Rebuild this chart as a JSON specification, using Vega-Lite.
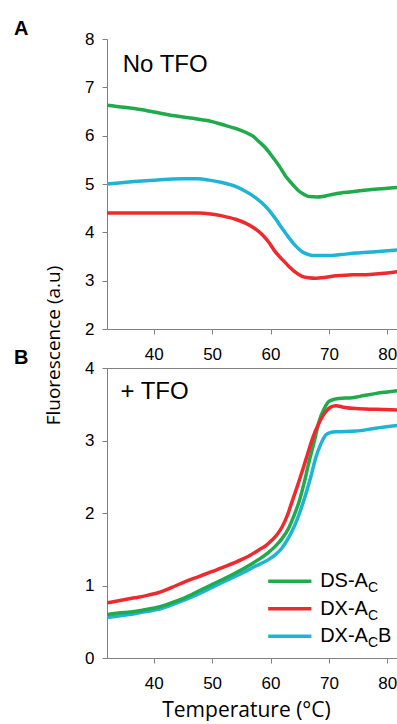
{
  "$schema": "https://vega.github.io/schema/vega-lite/v6.json",
  "autosize": {"type": "pad"},
  "padding": {"left": 13, "top": 19, "right": 0, "bottom": 0},
  "background": "white",
  "bounds": "flush",
  "spacing": 39,
  "config": {
    "view": {"stroke": null},
    "font": "Liberation Sans",
    "axis": {
      "grid": false,
      "domainColor": "#808080",
      "tickColor": "#808080",
      "tickSize": 5,
      "labelFont": "Liberation Sans",
      "labelFontSize": 17,
      "labelColor": "#000000",
      "titleFont": "Open Sans",
      "titleFontWeight": "normal",
      "titleFontSize": 21,
      "titleColor": "#000000"
    },
    "axisY": {"labelPadding": 8},
    "axisX": {"labelPadding": 12}
  },
  "datasets": {
    "curves": [
      {"panel": "A", "series": "DS-AC", "temp": 32, "fluor": 6.63},
      {"panel": "A", "series": "DS-AC", "temp": 34, "fluor": 6.6},
      {"panel": "A", "series": "DS-AC", "temp": 36.7, "fluor": 6.56},
      {"panel": "A", "series": "DS-AC", "temp": 40, "fluor": 6.49},
      {"panel": "A", "series": "DS-AC", "temp": 43.6, "fluor": 6.41},
      {"panel": "A", "series": "DS-AC", "temp": 46, "fluor": 6.37},
      {"panel": "A", "series": "DS-AC", "temp": 48.2, "fluor": 6.33},
      {"panel": "A", "series": "DS-AC", "temp": 50, "fluor": 6.29},
      {"panel": "A", "series": "DS-AC", "temp": 51.7, "fluor": 6.23},
      {"panel": "A", "series": "DS-AC", "temp": 54, "fluor": 6.15},
      {"panel": "A", "series": "DS-AC", "temp": 55.7, "fluor": 6.07},
      {"panel": "A", "series": "DS-AC", "temp": 57, "fluor": 5.99},
      {"panel": "A", "series": "DS-AC", "temp": 58, "fluor": 5.88},
      {"panel": "A", "series": "DS-AC", "temp": 59.2, "fluor": 5.74},
      {"panel": "A", "series": "DS-AC", "temp": 60.3, "fluor": 5.57},
      {"panel": "A", "series": "DS-AC", "temp": 61.5, "fluor": 5.37},
      {"panel": "A", "series": "DS-AC", "temp": 62.6, "fluor": 5.16},
      {"panel": "A", "series": "DS-AC", "temp": 63.8, "fluor": 4.99},
      {"panel": "A", "series": "DS-AC", "temp": 64.9, "fluor": 4.85},
      {"panel": "A", "series": "DS-AC", "temp": 65.8, "fluor": 4.78},
      {"panel": "A", "series": "DS-AC", "temp": 66.6, "fluor": 4.74},
      {"panel": "A", "series": "DS-AC", "temp": 68, "fluor": 4.73},
      {"panel": "A", "series": "DS-AC", "temp": 68.9, "fluor": 4.74},
      {"panel": "A", "series": "DS-AC", "temp": 70, "fluor": 4.77},
      {"panel": "A", "series": "DS-AC", "temp": 71.2, "fluor": 4.8},
      {"panel": "A", "series": "DS-AC", "temp": 74, "fluor": 4.84},
      {"panel": "A", "series": "DS-AC", "temp": 77, "fluor": 4.88},
      {"panel": "A", "series": "DS-AC", "temp": 80, "fluor": 4.91},
      {"panel": "A", "series": "DS-AC", "temp": 82, "fluor": 4.93},

      {"panel": "A", "series": "DX-ACB", "temp": 32, "fluor": 5.0},
      {"panel": "A", "series": "DX-ACB", "temp": 34, "fluor": 5.02},
      {"panel": "A", "series": "DX-ACB", "temp": 36.7, "fluor": 5.05},
      {"panel": "A", "series": "DX-ACB", "temp": 40, "fluor": 5.08},
      {"panel": "A", "series": "DX-ACB", "temp": 42.5, "fluor": 5.1},
      {"panel": "A", "series": "DX-ACB", "temp": 45, "fluor": 5.11},
      {"panel": "A", "series": "DX-ACB", "temp": 47.6, "fluor": 5.11},
      {"panel": "A", "series": "DX-ACB", "temp": 49.5, "fluor": 5.08},
      {"panel": "A", "series": "DX-ACB", "temp": 51.7, "fluor": 5.03},
      {"panel": "A", "series": "DX-ACB", "temp": 54, "fluor": 4.95},
      {"panel": "A", "series": "DX-ACB", "temp": 55.7, "fluor": 4.85},
      {"panel": "A", "series": "DX-ACB", "temp": 57.3, "fluor": 4.73},
      {"panel": "A", "series": "DX-ACB", "temp": 58.6, "fluor": 4.6},
      {"panel": "A", "series": "DX-ACB", "temp": 59.8, "fluor": 4.45},
      {"panel": "A", "series": "DX-ACB", "temp": 60.8, "fluor": 4.29},
      {"panel": "A", "series": "DX-ACB", "temp": 62, "fluor": 4.08},
      {"panel": "A", "series": "DX-ACB", "temp": 63.2, "fluor": 3.88},
      {"panel": "A", "series": "DX-ACB", "temp": 64.3, "fluor": 3.72},
      {"panel": "A", "series": "DX-ACB", "temp": 65.4, "fluor": 3.6},
      {"panel": "A", "series": "DX-ACB", "temp": 66.3, "fluor": 3.55},
      {"panel": "A", "series": "DX-ACB", "temp": 67.2, "fluor": 3.52},
      {"panel": "A", "series": "DX-ACB", "temp": 70, "fluor": 3.52},
      {"panel": "A", "series": "DX-ACB", "temp": 72, "fluor": 3.54},
      {"panel": "A", "series": "DX-ACB", "temp": 74.6, "fluor": 3.57},
      {"panel": "A", "series": "DX-ACB", "temp": 78, "fluor": 3.6},
      {"panel": "A", "series": "DX-ACB", "temp": 82, "fluor": 3.64},

      {"panel": "A", "series": "DX-AC", "temp": 32, "fluor": 4.4},
      {"panel": "A", "series": "DX-AC", "temp": 36, "fluor": 4.4},
      {"panel": "A", "series": "DX-AC", "temp": 40, "fluor": 4.4},
      {"panel": "A", "series": "DX-AC", "temp": 44, "fluor": 4.4},
      {"panel": "A", "series": "DX-AC", "temp": 47.6, "fluor": 4.4},
      {"panel": "A", "series": "DX-AC", "temp": 49.8, "fluor": 4.38},
      {"panel": "A", "series": "DX-AC", "temp": 51.7, "fluor": 4.34},
      {"panel": "A", "series": "DX-AC", "temp": 54, "fluor": 4.27},
      {"panel": "A", "series": "DX-AC", "temp": 55.7, "fluor": 4.19},
      {"panel": "A", "series": "DX-AC", "temp": 57.3, "fluor": 4.08},
      {"panel": "A", "series": "DX-AC", "temp": 58.6, "fluor": 3.95},
      {"panel": "A", "series": "DX-AC", "temp": 59.8, "fluor": 3.78},
      {"panel": "A", "series": "DX-AC", "temp": 60.8, "fluor": 3.6},
      {"panel": "A", "series": "DX-AC", "temp": 62, "fluor": 3.44},
      {"panel": "A", "series": "DX-AC", "temp": 63.2, "fluor": 3.29},
      {"panel": "A", "series": "DX-AC", "temp": 64.3, "fluor": 3.17},
      {"panel": "A", "series": "DX-AC", "temp": 65.4, "fluor": 3.09},
      {"panel": "A", "series": "DX-AC", "temp": 66.5, "fluor": 3.06},
      {"panel": "A", "series": "DX-AC", "temp": 67.7, "fluor": 3.05},
      {"panel": "A", "series": "DX-AC", "temp": 69.5, "fluor": 3.07},
      {"panel": "A", "series": "DX-AC", "temp": 71.2, "fluor": 3.1},
      {"panel": "A", "series": "DX-AC", "temp": 74, "fluor": 3.12},
      {"panel": "A", "series": "DX-AC", "temp": 77, "fluor": 3.13},
      {"panel": "A", "series": "DX-AC", "temp": 80, "fluor": 3.16},
      {"panel": "A", "series": "DX-AC", "temp": 82, "fluor": 3.19},

      {"panel": "B", "series": "DX-ACB", "temp": 32, "fluor": 0.56},
      {"panel": "B", "series": "DX-ACB", "temp": 34, "fluor": 0.58},
      {"panel": "B", "series": "DX-ACB", "temp": 36.7, "fluor": 0.61},
      {"panel": "B", "series": "DX-ACB", "temp": 38.7, "fluor": 0.64},
      {"panel": "B", "series": "DX-ACB", "temp": 40.7, "fluor": 0.67},
      {"panel": "B", "series": "DX-ACB", "temp": 43, "fluor": 0.73},
      {"panel": "B", "series": "DX-ACB", "temp": 45.3, "fluor": 0.8},
      {"panel": "B", "series": "DX-ACB", "temp": 47.6, "fluor": 0.88},
      {"panel": "B", "series": "DX-ACB", "temp": 49.9, "fluor": 0.97},
      {"panel": "B", "series": "DX-ACB", "temp": 52.5, "fluor": 1.07},
      {"panel": "B", "series": "DX-ACB", "temp": 55.1, "fluor": 1.17},
      {"panel": "B", "series": "DX-ACB", "temp": 57.5, "fluor": 1.27},
      {"panel": "B", "series": "DX-ACB", "temp": 59.7, "fluor": 1.36},
      {"panel": "B", "series": "DX-ACB", "temp": 60.9, "fluor": 1.43},
      {"panel": "B", "series": "DX-ACB", "temp": 62, "fluor": 1.52},
      {"panel": "B", "series": "DX-ACB", "temp": 63.1, "fluor": 1.66},
      {"panel": "B", "series": "DX-ACB", "temp": 64.2, "fluor": 1.84},
      {"panel": "B", "series": "DX-ACB", "temp": 65.1, "fluor": 2.03},
      {"panel": "B", "series": "DX-ACB", "temp": 66, "fluor": 2.25},
      {"panel": "B", "series": "DX-ACB", "temp": 66.9, "fluor": 2.5},
      {"panel": "B", "series": "DX-ACB", "temp": 67.7, "fluor": 2.75},
      {"panel": "B", "series": "DX-ACB", "temp": 68.6, "fluor": 2.95},
      {"panel": "B", "series": "DX-ACB", "temp": 69.5, "fluor": 3.08},
      {"panel": "B", "series": "DX-ACB", "temp": 70.3, "fluor": 3.11},
      {"panel": "B", "series": "DX-ACB", "temp": 71.2, "fluor": 3.12},
      {"panel": "B", "series": "DX-ACB", "temp": 74.6, "fluor": 3.13},
      {"panel": "B", "series": "DX-ACB", "temp": 78, "fluor": 3.17},
      {"panel": "B", "series": "DX-ACB", "temp": 82, "fluor": 3.21},

      {"panel": "B", "series": "DS-AC", "temp": 32, "fluor": 0.6},
      {"panel": "B", "series": "DS-AC", "temp": 34, "fluor": 0.62},
      {"panel": "B", "series": "DS-AC", "temp": 36.7, "fluor": 0.64},
      {"panel": "B", "series": "DS-AC", "temp": 38.7, "fluor": 0.67},
      {"panel": "B", "series": "DS-AC", "temp": 40.7, "fluor": 0.7},
      {"panel": "B", "series": "DS-AC", "temp": 43, "fluor": 0.76},
      {"panel": "B", "series": "DS-AC", "temp": 45.3, "fluor": 0.83},
      {"panel": "B", "series": "DS-AC", "temp": 47.6, "fluor": 0.92},
      {"panel": "B", "series": "DS-AC", "temp": 49.9, "fluor": 1.01},
      {"panel": "B", "series": "DS-AC", "temp": 52.5, "fluor": 1.11},
      {"panel": "B", "series": "DS-AC", "temp": 55.1, "fluor": 1.22},
      {"panel": "B", "series": "DS-AC", "temp": 56.6, "fluor": 1.29},
      {"panel": "B", "series": "DS-AC", "temp": 58, "fluor": 1.36},
      {"panel": "B", "series": "DS-AC", "temp": 59.4, "fluor": 1.44},
      {"panel": "B", "series": "DS-AC", "temp": 60.8, "fluor": 1.54},
      {"panel": "B", "series": "DS-AC", "temp": 62, "fluor": 1.65},
      {"panel": "B", "series": "DS-AC", "temp": 63.1, "fluor": 1.79},
      {"panel": "B", "series": "DS-AC", "temp": 64, "fluor": 1.96},
      {"panel": "B", "series": "DS-AC", "temp": 64.9, "fluor": 2.16},
      {"panel": "B", "series": "DS-AC", "temp": 65.8, "fluor": 2.43},
      {"panel": "B", "series": "DS-AC", "temp": 66.6, "fluor": 2.71},
      {"panel": "B", "series": "DS-AC", "temp": 67.5, "fluor": 2.99},
      {"panel": "B", "series": "DS-AC", "temp": 68.3, "fluor": 3.26},
      {"panel": "B", "series": "DS-AC", "temp": 69.2, "fluor": 3.44},
      {"panel": "B", "series": "DS-AC", "temp": 70, "fluor": 3.54},
      {"panel": "B", "series": "DS-AC", "temp": 71, "fluor": 3.57},
      {"panel": "B", "series": "DS-AC", "temp": 71.7, "fluor": 3.58},
      {"panel": "B", "series": "DS-AC", "temp": 74, "fluor": 3.59},
      {"panel": "B", "series": "DS-AC", "temp": 76, "fluor": 3.62},
      {"panel": "B", "series": "DS-AC", "temp": 78.1, "fluor": 3.65},
      {"panel": "B", "series": "DS-AC", "temp": 80, "fluor": 3.67},
      {"panel": "B", "series": "DS-AC", "temp": 82, "fluor": 3.69},

      {"panel": "B", "series": "DX-AC", "temp": 32, "fluor": 0.76},
      {"panel": "B", "series": "DX-AC", "temp": 34, "fluor": 0.79},
      {"panel": "B", "series": "DX-AC", "temp": 36.7, "fluor": 0.83},
      {"panel": "B", "series": "DX-AC", "temp": 38.7, "fluor": 0.86},
      {"panel": "B", "series": "DX-AC", "temp": 40.7, "fluor": 0.9},
      {"panel": "B", "series": "DX-AC", "temp": 43, "fluor": 0.97},
      {"panel": "B", "series": "DX-AC", "temp": 45.3, "fluor": 1.05},
      {"panel": "B", "series": "DX-AC", "temp": 47.6, "fluor": 1.12},
      {"panel": "B", "series": "DX-AC", "temp": 49.9, "fluor": 1.19},
      {"panel": "B", "series": "DX-AC", "temp": 52.5, "fluor": 1.27},
      {"panel": "B", "series": "DX-AC", "temp": 55.1, "fluor": 1.36},
      {"panel": "B", "series": "DX-AC", "temp": 56.6, "fluor": 1.42},
      {"panel": "B", "series": "DX-AC", "temp": 58, "fluor": 1.49},
      {"panel": "B", "series": "DX-AC", "temp": 59.2, "fluor": 1.55},
      {"panel": "B", "series": "DX-AC", "temp": 60.3, "fluor": 1.63},
      {"panel": "B", "series": "DX-AC", "temp": 61.2, "fluor": 1.71},
      {"panel": "B", "series": "DX-AC", "temp": 62, "fluor": 1.81},
      {"panel": "B", "series": "DX-AC", "temp": 62.9, "fluor": 1.97},
      {"panel": "B", "series": "DX-AC", "temp": 63.7, "fluor": 2.16},
      {"panel": "B", "series": "DX-AC", "temp": 64.6, "fluor": 2.37},
      {"panel": "B", "series": "DX-AC", "temp": 65.4, "fluor": 2.57},
      {"panel": "B", "series": "DX-AC", "temp": 66.3, "fluor": 2.8},
      {"panel": "B", "series": "DX-AC", "temp": 67.2, "fluor": 3.03},
      {"panel": "B", "series": "DX-AC", "temp": 68.3, "fluor": 3.24},
      {"panel": "B", "series": "DX-AC", "temp": 69.5, "fluor": 3.4},
      {"panel": "B", "series": "DX-AC", "temp": 70.3, "fluor": 3.46},
      {"panel": "B", "series": "DX-AC", "temp": 71.2, "fluor": 3.48},
      {"panel": "B", "series": "DX-AC", "temp": 72.5, "fluor": 3.46},
      {"panel": "B", "series": "DX-AC", "temp": 74.6, "fluor": 3.44},
      {"panel": "B", "series": "DX-AC", "temp": 78, "fluor": 3.43},
      {"panel": "B", "series": "DX-AC", "temp": 82, "fluor": 3.42}
    ],
    "notes": [
      {"panel": "A", "label": "No TFO", "temp": 34.7, "fluor": 7.32},
      {"panel": "B", "label": "+ TFO", "temp": 34.3, "fluor": 3.57}
    ],
    "legend": [
      {"series": "DS-AC", "t1": 59.6, "t2": 67.0, "tl": 68.5, "fluor": 1.06, "main": "DS-A", "sub": "C", "tail": ""},
      {"series": "DX-AC", "t1": 59.6, "t2": 67.0, "tl": 68.5, "fluor": 0.68, "main": "DX-A", "sub": "C", "tail": ""},
      {"series": "DX-ACB", "t1": 59.6, "t2": 67.0, "tl": 68.5, "fluor": 0.3, "main": "DX-A", "sub": "C", "tail": "B"}
    ]
  },
  "vconcat": [
    {
      "width": 292,
      "height": 290,
      "title": {"text": "A", "anchor": "start", "frame": "group", "dx": -93, "dy": 12, "offset": 3, "fontSize": 20, "fontWeight": "bold", "font": "Liberation Sans", "color": "#000000"},
      "layer": [
        {
          "data": {"name": "curves"},
          "transform": [{"filter": "datum.panel === 'A'"}],
          "mark": {"type": "line", "strokeWidth": 3.5, "interpolate": "monotone", "clip": true},
          "encoding": {
            "x": {"field": "temp", "type": "quantitative", "scale": {"domain": [32, 82], "nice": false}, "axis": {"values": [40, 50, 60, 70, 80], "title": null}},
            "y": {"field": "fluor", "type": "quantitative", "scale": {"domain": [2, 8], "nice": false}, "axis": {"values": [2, 3, 4, 5, 6, 7, 8], "format": "d", "title": "Fluorescence (a.u)", "titleX": -44, "titleY": 306, "titleFontSize": 19}},
            "color": {"field": "series", "type": "nominal", "scale": {"domain": ["DS-AC", "DX-AC", "DX-ACB"], "range": ["#1faa4b", "#ee2a2e", "#1fb4d6"]}, "legend": null}
          }
        },
        {
          "data": {"name": "notes"},
          "transform": [{"filter": "datum.panel === 'A'"}],
          "mark": {"type": "text", "align": "left", "baseline": "alphabetic", "fontSize": 24, "font": "Liberation Sans", "color": "#000000"},
          "encoding": {
            "x": {"field": "temp", "type": "quantitative"},
            "y": {"field": "fluor", "type": "quantitative"},
            "text": {"field": "label"}
          }
        }
      ]
    },
    {
      "width": 292,
      "height": 290,
      "view": {"stroke": "#808080", "strokeWidth": 1},
      "title": {"text": "B", "anchor": "start", "frame": "group", "dx": -93, "dy": 13, "offset": 4, "fontSize": 20, "fontWeight": "bold", "font": "Liberation Sans", "color": "#000000"},
      "layer": [
        {
          "data": {"name": "curves"},
          "transform": [{"filter": "datum.panel === 'B'"}],
          "mark": {"type": "line", "strokeWidth": 3.5, "interpolate": "monotone", "clip": true},
          "encoding": {
            "x": {"field": "temp", "type": "quantitative", "scale": {"domain": [32, 82], "nice": false}, "axis": {"values": [40, 50, 60, 70, 80], "title": "Temperature (°C)", "titlePadding": 8, "titleX": 139}},
            "y": {"field": "fluor", "type": "quantitative", "scale": {"domain": [0, 4], "nice": false}, "axis": {"values": [0, 1, 2, 3, 4], "format": "d", "title": null}},
            "color": {"field": "series", "type": "nominal", "scale": {"domain": ["DS-AC", "DX-AC", "DX-ACB"], "range": ["#1faa4b", "#ee2a2e", "#1fb4d6"]}, "legend": null}
          }
        },
        {
          "data": {"name": "notes"},
          "transform": [{"filter": "datum.panel === 'B'"}],
          "mark": {"type": "text", "align": "left", "baseline": "alphabetic", "fontSize": 24, "font": "Liberation Sans", "color": "#000000"},
          "encoding": {
            "x": {"field": "temp", "type": "quantitative"},
            "y": {"field": "fluor", "type": "quantitative"},
            "text": {"field": "label"}
          }
        },
        {
          "data": {"name": "legend"},
          "mark": {"type": "rule", "strokeWidth": 3.5},
          "encoding": {
            "x": {"field": "t1", "type": "quantitative"},
            "x2": {"field": "t2"},
            "y": {"field": "fluor", "type": "quantitative"},
            "color": {"field": "series", "type": "nominal", "legend": null}
          }
        },
        {
          "data": {"name": "legend"},
          "mark": {"type": "text", "align": "left", "baseline": "middle", "fontSize": 20, "font": "Liberation Sans", "color": "#000000"},
          "encoding": {
            "x": {"field": "tl", "type": "quantitative"},
            "y": {"field": "fluor", "type": "quantitative"},
            "text": {"field": "main"}
          }
        },
        {
          "data": {"name": "legend"},
          "mark": {"type": "text", "align": "left", "baseline": "middle", "fontSize": 14, "dx": 47.8, "dy": 7, "font": "Liberation Sans", "color": "#000000"},
          "encoding": {
            "x": {"field": "tl", "type": "quantitative"},
            "y": {"field": "fluor", "type": "quantitative"},
            "text": {"field": "sub"}
          }
        },
        {
          "data": {"name": "legend"},
          "mark": {"type": "text", "align": "left", "baseline": "middle", "fontSize": 20, "dx": 57.9, "font": "Liberation Sans", "color": "#000000"},
          "encoding": {
            "x": {"field": "tl", "type": "quantitative"},
            "y": {"field": "fluor", "type": "quantitative"},
            "text": {"field": "tail"}
          }
        }
      ]
    }
  ]
}
